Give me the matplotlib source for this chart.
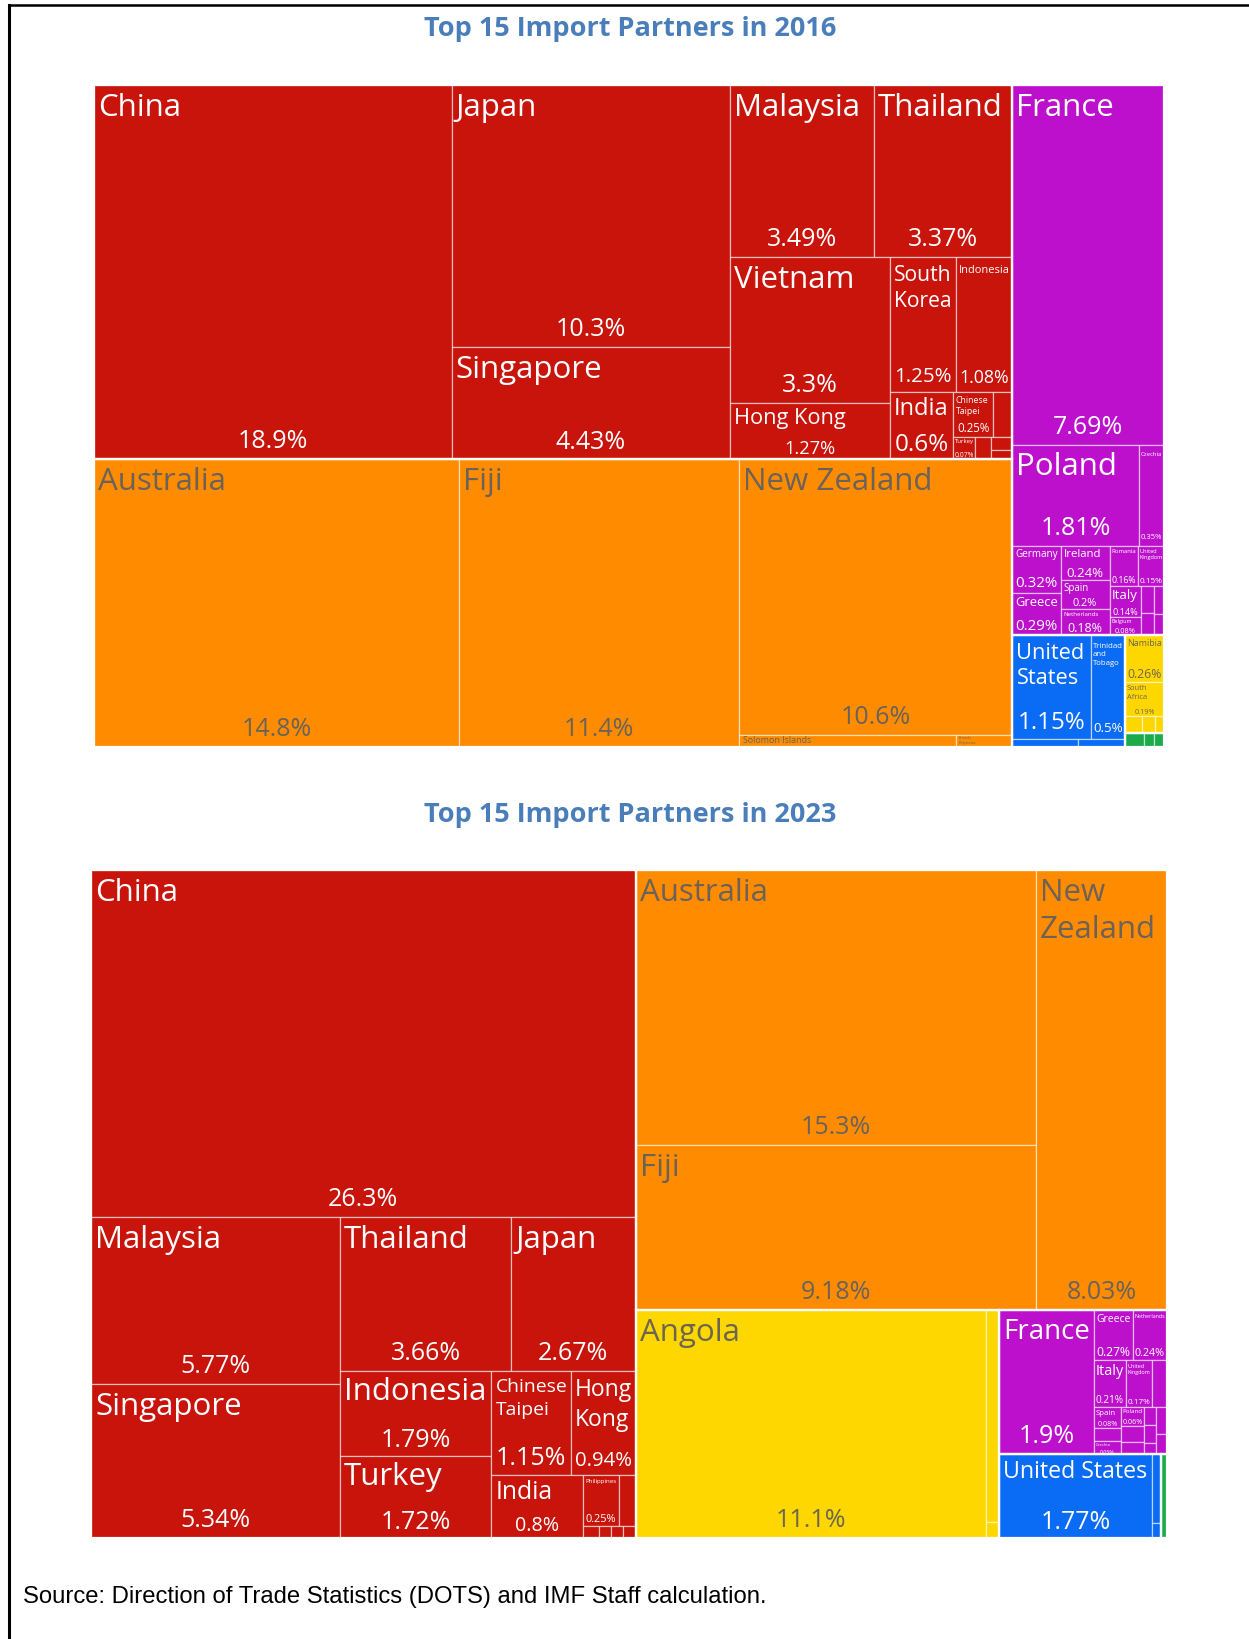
import matplotlib
matplotlib.use("Agg")
import matplotlib.pyplot as plt
from matplotlib.patches import Rectangle
from matplotlib.font_manager import FontProperties
from matplotlib.lines import Line2D

# ---------------- 2016 (share of imports, %) ----------------
# names starting with "_" are cells whose label can't be read in the picture
asia16_names = ["China", "Japan", "Singapore", "Malaysia", "Thailand", "Vietnam",
                "Hong Kong", "South Korea", "Indonesia", "India", "Chinese Taipei",
                "_as1", "Turkey", "_as2", "_as3", "_as4"]
asia16_values = [18.9, 10.3, 4.43, 3.49, 3.37, 3.3, 1.27, 1.25, 1.08, 0.6, 0.25,
                 0.12, 0.07, 0.05, 0.04, 0.03]

oceania16_names = ["Australia", "Fiji", "New Zealand", "Solomon Islands", "French Polynesia"]
oceania16_values = [14.8, 11.4, 10.6, 0.38, 0.1]

europe16_names = ["France", "Poland", "Czechia", "Germany", "Greece", "Ireland", "Spain",
                  "Netherlands", "Romania", "United Kingdom", "Italy", "Belgium",
                  "_eu1", "_eu2", "_eu3", "_eu4"]
europe16_values = [7.69, 1.81, 0.35, 0.32, 0.29, 0.24, 0.2, 0.18, 0.16, 0.15, 0.14, 0.08,
                   0.05, 0.04, 0.04, 0.03]

americas16_names = ["United States", "Trinidad and Tobago", "_am1", "_am2"]
americas16_values = [1.15, 0.5, 0.07, 0.05]

africa16_names = ["Namibia", "South Africa", "_af1", "_af2", "_af3"]
africa16_values = [0.26, 0.19, 0.04, 0.03, 0.02]

other16_names = ["_ot1", "_ot2", "_ot3"]
other16_values = [0.04, 0.02, 0.02]

# ---------------- 2023 ----------------
asia23_names = ["China", "Malaysia", "Singapore", "Thailand", "Japan", "Indonesia", "Turkey",
                "Chinese Taipei", "Hong Kong", "India", "Philippines",
                "_as1", "_as2", "_as3", "_as4", "_as5"]
asia23_values = [26.3, 5.77, 5.34, 3.66, 2.67, 1.79, 1.72, 1.15, 0.94, 0.8, 0.25,
                 0.12, 0.025, 0.02, 0.02, 0.02]

oceania23_names = ["Australia", "Fiji", "New Zealand"]
oceania23_values = [15.3, 9.18, 8.03]

africa23_names = ["Angola", "_af1", "_af2"]
africa23_values = [11.1, 0.4, 0.03]

europe23_names = ["France", "Greece", "Netherlands", "Italy", "United Kingdom", "_eu1",
                  "Spain", "_eu2", "Czechia", "Poland", "_eu3", "_eu4",
                  "_eu5", "_eu6", "_eu7", "_eu8", "_eu9"]
europe23_values = [1.9, 0.27, 0.24, 0.21, 0.17, 0.1, 0.08, 0.05, 0.05, 0.06, 0.05, 0.04,
                   0.03, 0.03, 0.02, 0.04, 0.03]

americas23_names = ["United States", "_am1", "_am2"]
americas23_values = [1.77, 0.09, 0.02]

other23_names = ["_ot1"]
other23_values = [0.07]

region_colors = {"asia": "#c8140b", "oceania": "#ff8c00", "europe": "#bd10cd",
                 "americas": "#0a6cf5", "africa": "#ffd700", "other": "#1bab4b"}
text_colors = {"asia": "white", "oceania": "#6b625a", "europe": "white",
               "americas": "white", "africa": "#6b6650", "other": "white"}

# slice-and-dice structure of each treemap ("h" = side by side, "v" = stacked)
layout16 = ("h", [
    ("v", [
        ("h", ["China", ("v", ["Japan", "Singapore"]),
               ("v", [("h", ["Malaysia", "Thailand"]),
                      ("h", [("v", ["Vietnam", "Hong Kong"]),
                             ("v", [("h", ["South Korea", "Indonesia"]),
                                    ("h", ["India",
                                           ("v", [("h", ["Chinese Taipei", "_as1"]),
                                                  ("h", ["Turkey", "_as2", ("v", ["_as3", "_as4"])])])])])])])]),
        ("h", ["Australia", "Fiji",
               ("v", ["New Zealand", ("h", ["Solomon Islands", "French Polynesia"])])]),
    ]),
    ("v", [
        ("v", ["France", ("h", ["Poland", "Czechia"]),
               ("h", [("v", ["Germany", "Greece"]),
                      ("v", ["Ireland", "Spain", "Netherlands"]),
                      ("v", [("h", ["Romania", "United Kingdom"]),
                             ("h", [("v", ["Italy", "Belgium"]), ("v", ["_eu1", "_eu2"]),
                                    ("v", ["_eu3", "_eu4"])])])])]),
        ("h", [("v", [("h", ["United States", "Trinidad and Tobago"]), ("h", ["_am1", "_am2"])]),
               ("v", [("v", ["Namibia", "South Africa", ("h", ["_af1", "_af2", "_af3"])]),
                      ("h", ["_ot1", "_ot2", "_ot3"])])]),
    ]),
])

layout23 = ("h", [
    ("v", ["China",
           ("h", [("v", ["Malaysia", "Singapore"]),
                  ("v", [("h", ["Thailand", "Japan"]),
                         ("h", [("v", ["Indonesia", "Turkey"]),
                                ("v", [("h", ["Chinese Taipei", "Hong Kong"]),
                                       ("h", ["India",
                                              ("v", [("h", ["Philippines", "_as1"]),
                                                     ("h", ["_as2", "_as3", "_as4", "_as5"])])])])])])])]),
    ("v", [
        ("h", [("v", ["Australia", "Fiji"]), "New Zealand"]),
        ("h", [("h", ["Angola", ("v", ["_af1", "_af2"])]),
               ("v", [("h", ["France",
                             ("v", [("h", ["Greece", "Netherlands"]),
                                    ("h", ["Italy", "United Kingdom", "_eu1"]),
                                    ("h", [("v", ["Spain", "_eu2", "Czechia"]),
                                           ("v", ["Poland", "_eu3", "_eu4"]),
                                           ("v", ["_eu5", "_eu6", "_eu7"]),
                                           ("v", ["_eu8", "_eu9"])])])]),
                      ("h", [("h", ["United States", ("v", ["_am1", "_am2"])]), "_ot1"])])]),
    ]),
])

groups16 = [("asia", asia16_names, asia16_values), ("oceania", oceania16_names, oceania16_values),
            ("europe", europe16_names, europe16_values), ("americas", americas16_names, americas16_values),
            ("africa", africa16_names, africa16_values), ("other", other16_names, other16_values)]
groups23 = [("asia", asia23_names, asia23_values), ("oceania", oceania23_names, oceania23_values),
            ("africa", africa23_names, africa23_values), ("europe", europe23_names, europe23_values),
            ("americas", americas23_names, americas23_values), ("other", other23_names, other23_values)]

FIG_W, FIG_H = 1249, 1640
fig = plt.figure(figsize=(FIG_W / 100, FIG_H / 100), dpi=100)
renderer = fig.canvas.get_renderer()
FONT = "Open Sans"
NAME_MAX, PCT_MAX = 22.5, 18
LINESP = 1.3
K = 1.25 * 100 / 72  # pixels per point of one text line


def weight(node, vals):
    if isinstance(node, str):
        return vals[node]
    return sum(weight(c, vals) for c in node[1])


def split(node, vals, x, y, w, h, out):
    if isinstance(node, str):
        out.append((node, x, y, w, h))
        return
    kind, kids = node
    total = weight(node, vals)
    pos = 0.0
    for k in kids:
        f = weight(k, vals) / total
        if kind == "h":
            split(k, vals, x + pos * w, y, f * w, h, out)
        else:
            split(k, vals, x, y + pos * h, w, f * h, out)
        pos += f


def text_w(s, fs):
    fp = FontProperties(family=FONT, size=fs)
    return renderer.get_text_width_height_descent(s, fp, ismath=False)[0]


def fit_label(name, pct, wpx, hpx):
    padx = min(4.0, wpx * 0.06)
    pt = min(7.0, hpx * 0.06)
    pb = min(6.0, hpx * 0.05)
    aw, ah = wpx - 2 * padx, hpx - pt - pb
    if aw <= 2 or ah <= 2:
        return None
    fs_p0 = min(PCT_MAX, PCT_MAX * aw / text_w(pct, PCT_MAX))
    opts = [name] + ([name.replace(" ", "\n")] if " " in name else [])
    best = None
    for i, opt in enumerate(opts):
        lines = opt.split("\n")
        n = 1 + (len(lines) - 1) * LINESP
        wfit = NAME_MAX * aw / max(text_w(l, NAME_MAX) for l in lines)
        fn = min(NAME_MAX, wfit)
        fp = fs_p0
        need = (n * fn + fp) * K
        if need > ah:
            s = ah / need
            fn, fp = fn * s, fp * s
        if fp < 3.5:
            fp = 0
            fn = min(NAME_MAX, wfit, ah / (n * K))
        score = fn * (1.0 if i == 0 else 0.9)
        if best is None or score > best[0]:
            best = (score, opt, fn, fp)
    return best[1], best[2], best[3], padx, pt, pb


def draw_treemap(rect_px, layout, groups):
    left, top, right, bottom = rect_px
    ax = fig.add_axes([left / FIG_W, 1 - bottom / FIG_H, (right - left) / FIG_W, (bottom - top) / FIG_H])
    axw, axh = right - left, bottom - top
    ax.set_xlim(0, 1)
    ax.set_ylim(1, 0)
    ax.axis("off")
    vals, region_of = {}, {}
    for region, names, values in groups:
        for n, v in zip(names, values):
            vals[n] = v
            region_of[n] = region
    cells = []
    split(layout, vals, 0.0, 0.0, 1.0, 1.0, cells)
    boxes = {}
    for name, x, y, w, h in cells:
        reg = region_of[name]
        ax.add_patch(Rectangle((x, y), w, h, facecolor=region_colors[reg],
                               edgecolor=(1, 1, 1, 0.55), linewidth=0.9))
        b = boxes.setdefault(reg, [x, y, x + w, y + h])
        b[0], b[1] = min(b[0], x), min(b[1], y)
        b[2], b[3] = max(b[2], x + w), max(b[3], y + h)
        if name.startswith("_"):
            continue
        pct = f"{vals[name]:.3g}%"
        fit = fit_label(name, pct, w * axw, h * axh)
        if fit is None:
            continue
        label, fn, fp, padx, pt, pb = fit
        tc = text_colors[reg]
        if fn >= 2.5:
            ax.text(x + padx / axw, y + pt / axh, label, fontsize=fn, family=FONT, color=tc,
                    ha="left", va="top", linespacing=LINESP)
        if fp >= 3.5:
            ax.text(x + w / 2, y + h - pb / axh, pct, fontsize=fp, family=FONT, color=tc,
                    ha="center", va="bottom")
    for reg, (x0, y0, x1, y1) in boxes.items():
        ax.add_patch(Rectangle((x0, y0), x1 - x0, y1 - y0, fill=False,
                               edgecolor="white", linewidth=1.6))
    return ax


draw_treemap((94, 86, 1164, 748), layout16, groups16)
draw_treemap((91, 871, 1167, 1539), layout23, groups23)

title_kw = dict(ha="center", va="center", fontsize=19.5, fontweight="bold",
                color="#4a7ebb", family=FONT)
fig.text(630 / FIG_W, 1 - 29 / FIG_H, "Top 15 Import Partners in 2016", **title_kw)
fig.text(630 / FIG_W, 1 - 815 / FIG_H, "Top 15 Import Partners in 2023", **title_kw)

fig.text(23 / FIG_W, 1 - 1597 / FIG_H,
         "Source: Direction of Trade Statistics (DOTS) and IMF Staff calculation.",
         ha="left", va="center", fontsize=17.2, family="Liberation Sans", color="black")

# frame lines (left and top)
fig.add_artist(Line2D([9 / FIG_W, 9 / FIG_W], [0, 1 - 5.5 / FIG_H], color="black", linewidth=2.2))
fig.add_artist(Line2D([9 / FIG_W, 1], [1 - 5.5 / FIG_H, 1 - 5.5 / FIG_H], color="black", linewidth=1.8))

fig.savefig("out.png", dpi=100)
